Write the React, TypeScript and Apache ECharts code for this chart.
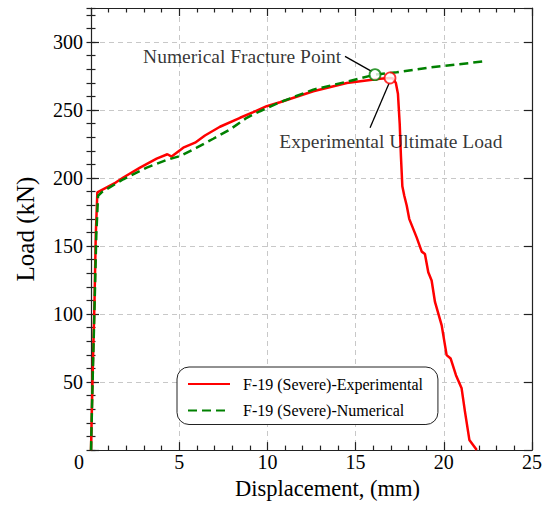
import React, { useEffect, useRef } from "react";
import * as echarts from "echarts";

const expX = [0, 0.1, 0.2, 0.27, 0.36, 1.4, 1.83, 2.78, 3.72, 4.33, 4.57, 5.23, 5.9, 6.46, 7.31, 8.45, 9.2, 9.96, 10.71, 12.6, 14.5, 16.38, 16.95, 17.12, 17.28, 17.4, 17.5, 17.57, 17.65, 17.76, 17.9, 18.04, 18.46, 18.75, 18.93, 19.12, 19.31, 19.5, 19.88, 20.16, 20.39, 20.69, 21.01, 21.2, 21.45, 21.87];
const expY = [0, 60, 110, 158, 189.5, 196.7, 200.4, 207.7, 214.3, 217.5, 215.8, 222.3, 226, 231.3, 237.7, 244.3, 248.4, 252.8, 255.7, 263.8, 269.9, 273, 273.6, 273.2, 270, 262, 240, 216, 194, 187, 179.6, 170, 156.4, 145.9, 144.2, 130.8, 124.7, 108.9, 91.7, 69.8, 67.3, 55.1, 45.4, 28.3, 7.5, 0];

const numX = [0, 0.1, 0.2, 0.3, 0.4, 0.65, 1.83, 3.16, 4.29, 5.05, 5.99, 6.93, 7.88, 8.83, 9.58, 10.71, 12.6, 14.5, 16.1, 17.33, 19.22, 22.24];
const numY = [0, 55, 105, 158, 187, 190, 199.1, 207.7, 213.3, 216.2, 222.3, 228.9, 235.7, 244.3, 249.1, 255.7, 265, 270.8, 276, 277.7, 281.3, 285.7];

const fracturePoint = [16.1, 276];
const ultimatePoint = [16.95, 273.6];
const leaderNum = [[14.4, 289.4], [15.91, 278.4]];
const leaderExp = [[15.82, 237], [16.91, 270]];
const labelNumPos = [8.57, 289.2];
const labelExpPos = [17.0, 227.2];

const seriesNames = ["F-19 (Severe)-Experimental", "F-19 (Severe)-Numerical"];
const annotationTexts = ["Numerical Fracture Point", "Experimental Ultimate Load"];
const xTitle = "Displacement, (mm)";
const yTitle = "Load (kN)";

const FONT = "Liberation Serif";

export default function App() {
  const ref = useRef<HTMLDivElement>(null);
  useEffect(() => {
    if (!ref.current) return;
    const chart = echarts.init(ref.current, null, { renderer: "svg" });
    const zip = (a: number[], b: number[]) => a.map((v, i) => [v, b[i]]);
    const axisLineStyle = { color: "#222", width: 1.2 };
    const xBase = {
      type: "value",
      min: 0,
      max: 25,
      interval: 5,
      axisLine: { show: true, onZero: false, lineStyle: axisLineStyle },
      axisTick: { show: true, inside: true, length: 8, lineStyle: axisLineStyle },
      minorTick: { show: true, splitNumber: 5, length: 4.5, lineStyle: axisLineStyle },
    };
    const yMajor = {
      type: "value",
      min: 0,
      max: 325,
      interval: 50,
      axisLine: { show: true, onZero: false, lineStyle: axisLineStyle },
      axisTick: { show: true, inside: true, length: 8, lineStyle: axisLineStyle },
    };
    const yMinor = {
      type: "value",
      min: 0,
      max: 325,
      interval: 10,
      axisLine: { show: false },
      axisTick: { show: true, inside: true, length: 4.5, lineStyle: axisLineStyle },
      axisLabel: { show: false },
      splitLine: { show: false },
    };
    const option: any = {
      animation: false,
      grid: { left: 91, right: 13, top: 8, bottom: 53 },
      legend: {
        data: seriesNames,
        orient: "vertical",
        left: 177,
        top: 367,
        padding: [9, 15, 6, 10],
        itemGap: 10.5,
        itemWidth: 42,
        itemHeight: 14,
        borderColor: "#222",
        borderWidth: 1,
        borderRadius: 12,
        backgroundColor: "#fff",
        itemStyle: { opacity: 0 },
        textStyle: { fontFamily: FONT, fontSize: 16, color: "#000", padding: [0, 0, 0, 8] },
      },
      xAxis: [
        {
          ...xBase,
          position: "bottom",
          name: xTitle,
          nameLocation: "middle",
          nameGap: 26,
          nameTextStyle: { fontFamily: FONT, fontSize: 22.5, color: "#000", padding: [0, 0, 0, 32] },
          axisLabel: {
            fontFamily: FONT,
            fontSize: 20,
            color: "#000",
            margin: 2,
            formatter: (v: number) => (v === 0 ? "{z|0}" : String(v)),
            rich: { z: { fontFamily: FONT, fontSize: 20, color: "#000", padding: [0, 24, 0, 0] } },
          },
          splitLine: { show: true, lineStyle: { color: "#c8c8c8", type: [5, 4], width: 1 } },
        },
        {
          ...xBase,
          position: "top",
          axisLabel: { show: false },
          splitLine: { show: false },
        },
      ],
      yAxis: [
        {
          ...yMajor,
          position: "left",
          name: yTitle,
          nameLocation: "middle",
          nameGap: 53,
          nameTextStyle: { fontFamily: FONT, fontSize: 25, color: "#000" },
          axisLabel: {
            fontFamily: FONT,
            fontSize: 20,
            color: "#000",
            margin: 8,
            showMaxLabel: false,
            formatter: (v: number) => (v === 0 || v > 300 ? "" : String(v)),
          },
          splitLine: { show: true, lineStyle: { color: "#c8c8c8", type: [5, 4], width: 1 } },
        },
        { ...yMinor, position: "left" },
        { ...yMajor, position: "right", axisLabel: { show: false }, splitLine: { show: false } },
        { ...yMinor, position: "right" },
      ],
      series: [
        {
          name: seriesNames[0],
          type: "line",
          data: zip(expX, expY),
          showSymbol: false,
          symbol: "none",
          color: "#ff0000",
          lineStyle: { color: "#ff0000", width: 2.5 },
          z: 3,
        },
        {
          name: seriesNames[1],
          type: "line",
          data: zip(numX, numY),
          showSymbol: false,
          symbol: "none",
          color: "#008000",
          lineStyle: { color: "#008000", width: 2.5, type: [9, 5] },
          z: 4,
        },
        {
          name: "leader1",
          type: "line",
          data: leaderNum,
          symbol: "none",
          silent: true,
          lineStyle: { color: "#000", width: 1.3 },
          z: 5,
        },
        {
          name: "leader2",
          type: "line",
          data: leaderExp,
          symbol: "none",
          silent: true,
          lineStyle: { color: "#000", width: 1.3 },
          z: 5,
        },
        {
          name: "fracture",
          type: "scatter",
          data: [fracturePoint],
          symbol: "circle",
          symbolSize: 11,
          itemStyle: { color: "#fff", borderColor: "#008000", borderWidth: 1.8 },
          z: 6,
        },
        {
          name: "ultimate",
          type: "scatter",
          data: [ultimatePoint],
          symbol: "circle",
          symbolSize: 11,
          itemStyle: { color: "#fff", borderColor: "#ff0000", borderWidth: 1.8 },
          z: 6,
        },
        {
          name: "annotations",
          type: "scatter",
          symbolSize: 0,
          silent: true,
          data: [
            { name: annotationTexts[0], value: labelNumPos },
            { name: annotationTexts[1], value: labelExpPos },
          ],
          label: {
            show: true,
            position: "inside",
            formatter: (p: any) => p.name,
            fontFamily: FONT,
            fontSize: 19.5,
            color: "#000",
          },
          z: 7,
        },
      ],
    };
    chart.setOption(option);
    return () => chart.dispose();
  }, []);
  return (
    <div
      ref={ref}
      style={{ position: "fixed", left: 0, top: 0, width: 545, height: 505, background: "#fff" }}
    />
  );
}
